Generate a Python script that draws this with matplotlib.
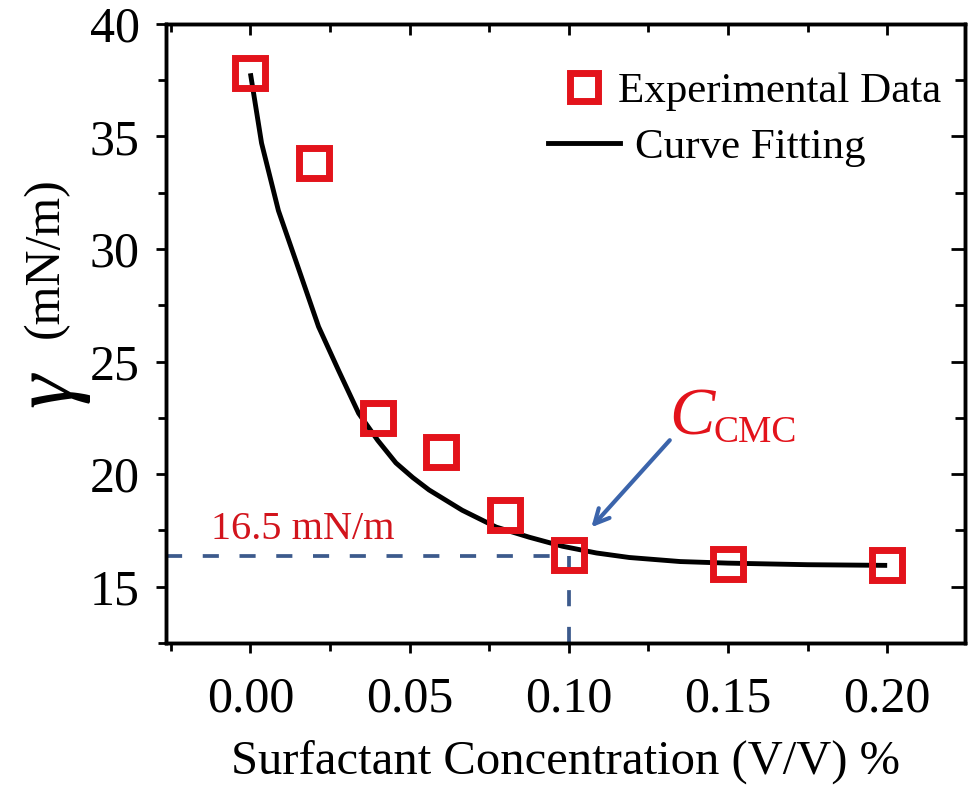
import numpy as np
import matplotlib
matplotlib.use("Agg")
import matplotlib.pyplot as plt
from matplotlib.ticker import MultipleLocator, FormatStrFormatter
from matplotlib.lines import Line2D

plt.rcParams['font.family'] = ['Liberation Serif', 'DejaVu Serif']

# Experimental data
conc = [0.00, 0.02, 0.04, 0.06, 0.08, 0.10, 0.15, 0.20]
gamma = [37.8, 33.8, 22.5, 21.0, 18.2, 16.4, 16.0, 15.95]

# Fitted curve
fit_x = [0.0, 0.0035, 0.0088, 0.0142, 0.0214, 0.0277, 0.034, 0.0400, 0.0457,
         0.0510, 0.0561, 0.0665, 0.0772, 0.0876, 0.098, 0.1087, 0.119, 0.135,
         0.15, 0.175, 0.20]
fit_y = [37.8, 34.7, 31.7, 29.5, 26.55, 24.6, 22.7, 21.5, 20.5,
         19.85, 19.3, 18.4, 17.65, 17.2, 16.8, 16.5, 16.3, 16.12,
         16.05, 15.98, 15.95]

cmc_x = 0.10
cmc_y = 16.38

RED = '#e3131b'

W, H = 971, 791
fig = plt.figure(figsize=(W / 100, H / 100), dpi=100)
ax = fig.add_axes([0.171, 0.187, 0.823, 0.783])

ax.plot(fit_x, fit_y, color='black', lw=3.5, zorder=3, solid_capstyle='butt')
ax.plot(conc, gamma, ls='none', marker='s', ms=22, mfc='none', mec=RED,
        mew=5, zorder=4)

xmin, xmax = -0.0265, 0.2245
ymin, ymax = 12.5, 40
dash = (0, (4.3, 5.5))
ax.plot([xmin, cmc_x], [cmc_y, cmc_y], ls=dash, color='#3c5a8c', lw=2.7, zorder=2)
ax.plot([cmc_x, cmc_x], [ymin, cmc_y], ls=dash, color='#3c5a8c', lw=2.7, zorder=2)

ax.set_xlim(xmin, xmax)
ax.set_ylim(ymin, ymax)

ax.text(0.0165, 17.55, '16.5 mN/m', color='#d2141c', fontsize=29, ha='center', va='center')
ax.text(0.1315, 21.75, 'C', color=RED, fontsize=49, style='italic', ha='left', va='baseline')
ax.text(0.1455, 21.42, 'CMC', color=RED, fontsize=27, ha='left', va='baseline')
ax.annotate('', xy=(0.1065, 17.55), xytext=(0.1323, 21.6),
            arrowprops=dict(arrowstyle='->', color='#3b64ab', lw=3, mutation_scale=26))

ax.xaxis.set_major_locator(MultipleLocator(0.05))
ax.xaxis.set_minor_locator(MultipleLocator(0.025))
ax.yaxis.set_major_locator(MultipleLocator(5))
ax.yaxis.set_minor_locator(MultipleLocator(2.5))
ax.xaxis.set_major_formatter(FormatStrFormatter('%.2f'))

for s in ax.spines.values():
    s.set_linewidth(2.4)

ax.tick_params(axis='both', which='major', direction='out', length=7, width=2,
               labelsize=36)
ax.tick_params(axis='both', which='minor', direction='out', length=6, width=2)
ax.tick_params(axis='x', which='major', pad=17)
ax.tick_params(axis='y', which='major', pad=12)

# top and right inward ticks
axt = ax.twiny()
axt.set_xlim(xmin, xmax)
axt.xaxis.set_major_locator(MultipleLocator(0.05))
axt.xaxis.set_minor_locator(MultipleLocator(0.025))
axt.tick_params(axis='x', which='major', direction='in', length=8, width=2, labeltop=False)
axt.tick_params(axis='x', which='minor', direction='in', length=6, width=2, labeltop=False)
axr = ax.twinx()
axr.set_ylim(ymin, ymax)
axr.yaxis.set_major_locator(MultipleLocator(5))
axr.yaxis.set_minor_locator(MultipleLocator(2.5))
axr.tick_params(axis='y', which='major', direction='in', length=10, width=2, labelright=False)
axr.tick_params(axis='y', which='minor', direction='in', length=7, width=2, labelright=False)
for a in (axt, axr):
    for s in a.spines.values():
        s.set_linewidth(2.4)

ax.set_xlabel('Surfactant Concentration (V/V) %', fontsize=35, labelpad=12)
fig.text(46 / W, 1 - 258 / H, '(mN/m)', fontsize=36, rotation=90,
         ha='center', va='center')
fig.text(50 / W, 1 - 390 / H, 'γ', fontsize=62, style='italic', rotation=90,
         ha='center', va='center')

# legend: two separate entries, as in the reference
h_data = Line2D([], [], ls='none', marker='s', ms=20, mfc='none', mec=RED, mew=5)
h_fit = Line2D([], [], color='black', lw=3.5)
leg1 = fig.legend([h_data], ['Experimental Data'], loc='center left', frameon=False,
                  fontsize=31, bbox_to_anchor=(562 / W, 1 - 91 / H),
                  handlelength=1.0, handletextpad=0.29, borderpad=0, borderaxespad=0)
leg2 = fig.legend([h_fit], ['Curve Fitting'], loc='center left', frameon=False,
                  fontsize=31, bbox_to_anchor=(548 / W, 1 - 147 / H),
                  handlelength=1.67, handletextpad=0.35, borderpad=0, borderaxespad=0)

fig.savefig('out.png', dpi=100)
